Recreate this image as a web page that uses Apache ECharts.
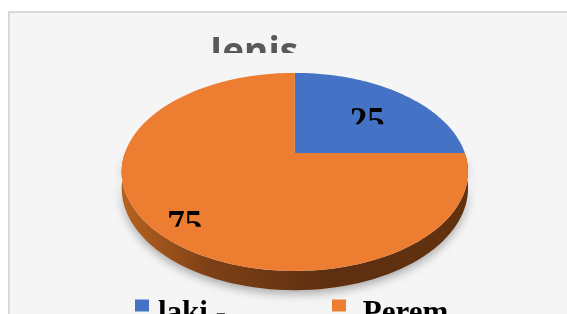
<!DOCTYPE html>
<html>
<head>
<meta charset="utf-8">
<script src="https://cdn.jsdelivr.net/npm/echarts@6/dist/echarts.min.js"></script>
<style>
html, body { margin: 0; padding: 0; background: #fff; }
#chart { width: 567px; height: 314px; }
</style>
</head>
<body>
<div id="chart"></div>
<script>
// data
var categories = ['laki - laki', 'Perempuan'];
var values = [25, 75];
var legendText = ['laki -\nlaki', ' Perem\npuan'];
var titleText = 'Jenis';

// look
var colors = ['#4472c4', '#ed7d31'];
var labelRadius = [0.655, 0.815];
var view = {cx: 0.52, cy: 0.487, rx: 170, ry: 95.4, k: 0.192, depth: 15.5};
var total = values.reduce(function (a, b) { return a + b; }, 0);

// angle clockwise from 12 o'clock, r in 0..1, drop = wall depth in px
function project(w, h, ang, r, drop) {
    var X = r * Math.sin(ang), Y = -r * Math.cos(ang);
    var p = 1 / (1 - view.k * Y);
    return [w * view.cx + view.rx * X * p, h * view.cy + (view.ry * Y + drop) * p];
}

function arc(w, h, a0, a1, drop) {
    var pts = [], n = 80;
    for (var i = 0; i <= n; i++) pts.push(project(w, h, a0 + (a1 - a0) * i / n, 1, drop));
    return pts;
}

function renderSlice(idx) {
    return function (params, api) {
        var w = api.getWidth(), h = api.getHeight();
        var before = 0;
        for (var j = 0; j < idx; j++) before += values[j];
        var a0 = before / total * Math.PI * 2;
        var a1 = (before + values[idx]) / total * Math.PI * 2;
        var children = [];

        // side wall, front half only
        var w0 = Math.max(a0, Math.PI / 2), w1 = Math.min(a1, Math.PI * 1.5);
        if (w1 > w0) {
            var wall = arc(w, h, w0, w1, 0).concat(arc(w, h, w0, w1, view.depth).reverse());
            children.push({
                type: 'polygon',
                shape: {points: wall},
                style: {
                    fill: new echarts.graphic.LinearGradient(0, 0, 1, 0, [
                        {offset: 0, color: '#b8621f'},
                        {offset: 0.25, color: '#7e4016'},
                        {offset: 0.6, color: '#5e2f10'},
                        {offset: 1, color: '#62320f'}
                    ]),
                    shadowBlur: 10, shadowColor: 'rgba(0,0,0,0.3)', shadowOffsetY: 4
                }
            });
        }

        // top face
        var face = [project(w, h, 0, 0, 0)].concat(arc(w, h, a0, a1, 0));
        children.push({type: 'polygon', shape: {points: face}, style: {fill: colors[idx]}});

        // value label, lower half hidden like the source
        var lp = project(w, h, (a0 + a1) / 2, labelRadius[idx], 0);
        children.push({
            type: 'text', x: lp[0], y: lp[1] + 11,
            style: {
                text: String(values[idx]), fill: '#000',
                font: 'bold 35px "Liberation Serif"', align: 'center', verticalAlign: 'middle'
            }
        });
        children.push({
            type: 'rect',
            shape: {x: lp[0] - 19, y: lp[1] + 12, width: 38, height: 12},
            style: {fill: colors[idx]}
        });
        return {type: 'group', children: children};
    };
}

var chart = echarts.init(document.getElementById('chart'));
chart.setOption({
    animation: false,
    backgroundColor: '#fff',
    title: {
        text: titleText, left: 205, top: 30,
        textStyle: {fontFamily: 'Open Sans', fontWeight: 'bold', fontSize: 37, color: '#595959'}
    },
    legend: {
        data: categories, left: 130, top: 261,
        icon: 'rect', itemWidth: 14, itemHeight: 12, itemGap: 24,
        // two blank lines push the first text line below the icon, as in the source
        formatter: function (name) { return '\n\n' + legendText[categories.indexOf(name)]; },
        textStyle: {
            fontFamily: 'Liberation Serif', fontWeight: 'bold', fontSize: 31, color: '#000',
            lineHeight: 16, width: 150, padding: [0, 0, 0, 4]
        }
    },
    graphic: [
        {type: 'rect', z: 0, shape: {x: 9, y: 12, width: 620, height: 400},
            style: {fill: '#f5f5f5', stroke: '#d9d9d9', lineWidth: 2}},
        {type: 'rect', z: 100, shape: {x: 195, y: 53, width: 130, height: 20},
            style: {fill: '#f5f5f5'}}
    ],
    series: categories.map(function (name, i) {
        return {
            type: 'custom', name: name, coordinateSystem: 'none',
            itemStyle: {color: colors[i]},
            renderItem: renderSlice(i),
            data: [values[i]]
        };
    })
});
</script>
</body>
</html>
